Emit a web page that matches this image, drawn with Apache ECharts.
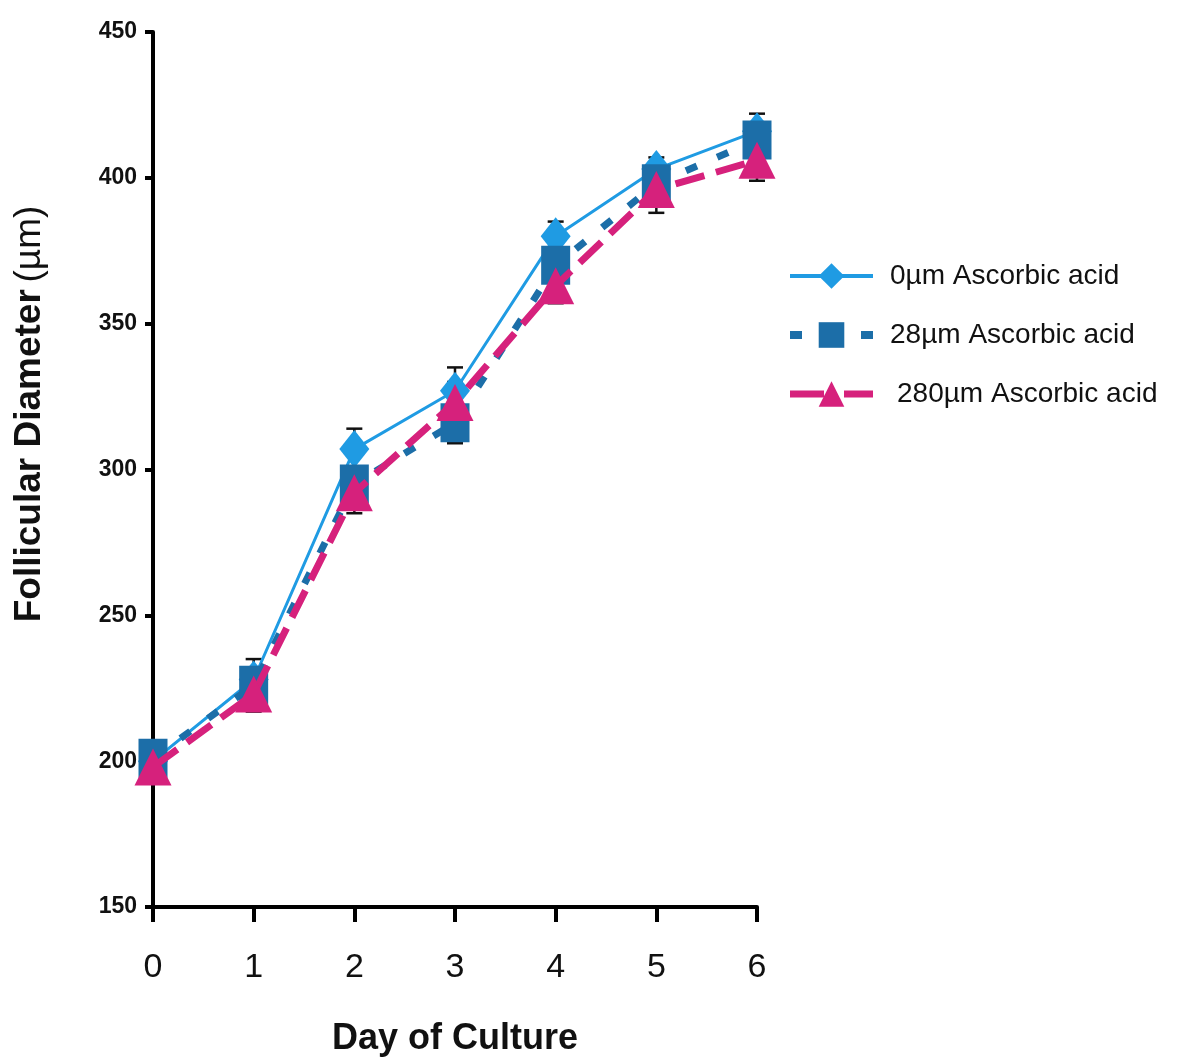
<!DOCTYPE html>
<html>
<head>
<meta charset="utf-8">
<script src="https://cdn.jsdelivr.net/npm/echarts@6/dist/echarts.min.js"></script>
<style>
html,body{margin:0;padding:0;background:#fff;}
#chart{width:1200px;height:1062px;}
</style>
</head>
<body>
<div id="chart"></div>
<script>
// ---- data ----
const days = [0, 1, 2, 3, 4, 5, 6];
const seriesNames = ['0\u00b5m Ascorbic acid', '28\u00b5m Ascorbic acid', '280\u00b5m Ascorbic acid'];
const acid0 = [200, 228, 307, 327, 380, 403, 416];
const acid28 = [201, 226, 295, 316, 370, 398, 413];
const acid280 = [198, 223, 292, 323, 363, 396, 406];
const err0 = [4, 7, 7, 8, 5, 4, 6];
const err28 = [5, 6, 6, 7, 6, 5, 6];
const err280 = [4, 6, 7, 7, 6, 8, 7];
const yTicks = [150, 200, 250, 300, 350, 400, 450];

const colors = ['#1f9be3', '#1c6ea8', '#d6217c'];
const FONT = "'Liberation Sans', Arial, Helvetica, sans-serif";

function pairs(vals) { return days.map((d, i) => [d, vals[i]]); }
function errData(vals, errs) { return days.map((d, i) => [d, vals[i], errs[i]]); }

function errRender(params, api) {
  const x = api.value(0), y = api.value(1), e = api.value(2);
  const t = api.coord([x, y + e]);
  const b = api.coord([x, y - e]);
  const hw = 8;
  const st = { stroke: '#111', lineWidth: 2.5 };
  return {
    type: 'group',
    children: [
      { type: 'line', shape: { x1: t[0], y1: t[1], x2: b[0], y2: b[1] }, style: st },
      { type: 'line', shape: { x1: t[0] - hw, y1: t[1], x2: t[0] + hw, y2: t[1] }, style: st },
      { type: 'line', shape: { x1: b[0] - hw, y1: b[1], x2: b[0] + hw, y2: b[1] }, style: st }
    ]
  };
}

const chart = echarts.init(document.getElementById('chart'), null, { renderer: 'canvas' });

const option = {
  backgroundColor: '#ffffff',
  animation: false,
  grid: { left: 153, right: 443, top: 32, bottom: 154, containLabel: false },
  legend: {
    orient: 'vertical',
    left: 781,
    top: 257,
    itemWidth: 83,
    itemHeight: 32,
    itemGap: 31,
    data: [
      { name: seriesNames[0], lineStyle: { width: 4, type: 'solid', color: colors[0] } },
      { name: seriesNames[1], lineStyle: { width: 8, type: [12, 59], color: colors[1] } },
      { name: seriesNames[2], lineStyle: { width: 7, type: [34, 20], color: colors[2] },
        textStyle: { padding: [0, 0, 0, 19] } }
    ],
    textStyle: { fontFamily: FONT, fontSize: 28, color: '#111', padding: [0, 0, 0, 12] }
  },
  xAxis: {
    type: 'value',
    min: 0, max: 6, interval: 1,
    name: 'Day of Culture',
    nameLocation: 'middle',
    nameGap: 114,
    nameTextStyle: { fontFamily: FONT, fontSize: 36, fontWeight: 'bold', color: '#111' },
    axisLine: { show: true, onZero: false, lineStyle: { color: '#000', width: 4 } },
    axisTick: { show: true, length: 15, lineStyle: { color: '#000', width: 4 } },
    axisLabel: { fontFamily: FONT, fontSize: 34, color: '#111', margin: 44 },
    splitLine: { show: false }
  },
  yAxis: {
    type: 'value',
    min: 150, max: 450, interval: 50,
    axisLine: { show: true, lineStyle: { color: '#000', width: 4 } },
    axisTick: { show: true, length: 8, lineStyle: { color: '#000', width: 4 } },
    axisLabel: {
      fontFamily: FONT, fontSize: 23, fontWeight: 'bold', color: '#111', margin: 16,
      formatter: v => (yTicks.indexOf(v) >= 0 ? String(v) : '')
    },
    splitLine: { show: false }
  },
  graphic: [
    {
      type: 'text',
      x: 30, y: 414,
      rotation: Math.PI / 2,
      style: {
        text: '{b|Follicular Diameter}\u00a0\u00a0{n|(\u00b5m)}',
        align: 'center',
        verticalAlign: 'middle',
        fill: '#111',
        rich: {
          b: { fontFamily: FONT, fontSize: 37, fontWeight: 'bold', fill: '#111' },
          n: { fontFamily: FONT, fontSize: 37, fontWeight: 'normal', fill: '#111' }
        }
      }
    }
  ],
  series: [
    {
      name: 'err0', type: 'custom', z: 1, silent: true,
      renderItem: errRender, data: errData(acid0, err0)
    },
    {
      name: 'err28', type: 'custom', z: 1, silent: true,
      renderItem: errRender, data: errData(acid28, err28)
    },
    {
      name: 'err280', type: 'custom', z: 1, silent: true,
      renderItem: errRender, data: errData(acid280, err280)
    },
    {
      name: seriesNames[0], type: 'line', z: 3,
      data: pairs(acid0),
      symbol: 'diamond', symbolSize: [30, 38],
      color: colors[0],
      itemStyle: { color: colors[0] },
      lineStyle: { color: colors[0], width: 3, type: 'solid' }
    },
    {
      name: seriesNames[1], type: 'line', z: 4,
      data: pairs(acid28),
      symbol: 'rect', symbolSize: [29, 39],
      color: colors[1],
      itemStyle: { color: colors[1] },
      lineStyle: { color: colors[1], width: 7, type: [12, 22] }
    },
    {
      name: seriesNames[2], type: 'line', z: 5,
      data: pairs(acid280),
      symbol: 'triangle', symbolSize: [37, 37],
      color: colors[2],
      itemStyle: { color: colors[2] },
      lineStyle: { color: colors[2], width: 7, type: [30, 12] }
    }
  ]
};

chart.setOption(option);
</script>
</body>
</html>
